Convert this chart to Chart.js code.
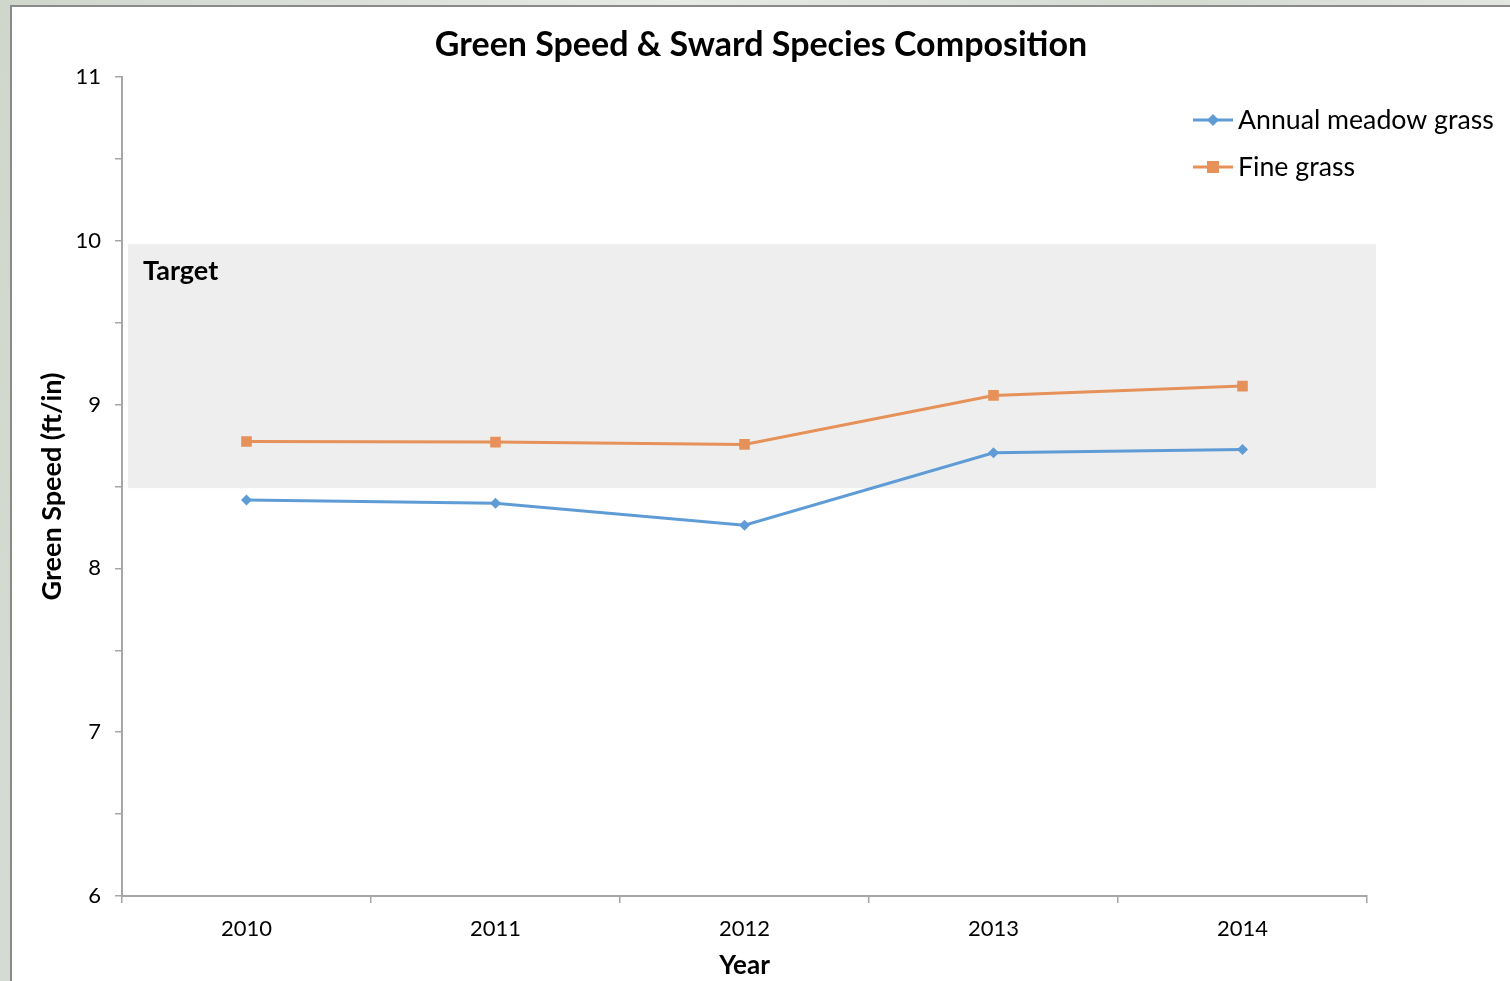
<!DOCTYPE html>
<html>
<head>
<meta charset="utf-8">
<script src="https://cdn.jsdelivr.net/npm/chart.js@4/dist/chart.umd.min.js"></script>
<style>
  html, body { margin: 0; padding: 0; width: 1510px; height: 981px; overflow: hidden; }
  body { background: linear-gradient(100deg, #cfd6cc 0%, #e6ebe4 40%, #d4dbd1 70%, #e9ece7 100%); position: relative; }
  #panel { position: absolute; left: 10px; top: 5px; width: 1510px; height: 990px; background: #fff; border-left: 2px solid #8a8a8a; border-top: 2px solid #8a8a8a; }
  #wrap { position: absolute; left: 0; top: 0; width: 1510px; height: 981px; }
</style>
</head>
<body>
<div id="panel"></div>
<div id="wrap"><canvas id="chart" width="1510" height="981"></canvas></div>
<script>
const years = ['2010', '2011', '2012', '2013', '2014'];
const annualMeadow = [8.417, 8.397, 8.264, 8.706, 8.726];
const fineGrass = [8.775, 8.771, 8.757, 9.056, 9.113];
const targetRange = [8.49, 9.98];
const yTicks = [6, 7, 8, 9, 10, 11];
const chartTitle = 'Green Speed & Sward Species Composition';

const FONT = 'Lato, "Open Sans", sans-serif';

// grey target band + its label
const targetBand = {
  id: 'targetBand',
  beforeDatasetsDraw(chart) {
    const { ctx, chartArea, scales: { y } } = chart;
    const top = y.getPixelForValue(targetRange[1]);
    const bottom = y.getPixelForValue(targetRange[0]);
    ctx.save();
    ctx.fillStyle = '#eeeeee';
    ctx.fillRect(chartArea.left + 6, top, chartArea.right - chartArea.left + 3, bottom - top);
    ctx.fillStyle = '#000';
    ctx.font = 'bold 27px ' + FONT;
    ctx.textBaseline = 'middle';
    ctx.fillText('Target', chartArea.left + 21, top + 27);
    ctx.restore();
  }
};

// title centred on the whole panel, not on the plot
const panelTitle = {
  id: 'panelTitle',
  afterDraw(chart) {
    const { ctx } = chart;
    ctx.save();
    ctx.fillStyle = '#000';
    ctx.font = 'bold 34px ' + FONT;
    ctx.textAlign = 'center';
    ctx.textBaseline = 'middle';
    ctx.fillText(chartTitle, 761, 45);
    ctx.restore();
  }
};

// legend drawn by hand, top right inside the plot
const sideLegend = {
  id: 'sideLegend',
  afterDraw(chart) {
    const { ctx } = chart;
    ctx.save();
    chart.data.datasets.forEach((ds, i) => {
      const x0 = 1193, y0 = 120 + i * 47;
      ctx.strokeStyle = ds.borderColor;
      ctx.lineWidth = 3;
      ctx.beginPath();
      ctx.moveTo(x0, y0);
      ctx.lineTo(x0 + 40, y0);
      ctx.stroke();
      ctx.fillStyle = ds.borderColor;
      ctx.beginPath();
      if (ds.pointStyle === 'rectRot') {
        ctx.moveTo(x0 + 20, y0 - 6);
        ctx.lineTo(x0 + 26, y0);
        ctx.lineTo(x0 + 20, y0 + 6);
        ctx.lineTo(x0 + 14, y0);
      } else {
        ctx.rect(x0 + 14, y0 - 6, 12, 12);
      }
      ctx.fill();
      ctx.fillStyle = '#000';
      ctx.font = '26.7px ' + FONT;
      ctx.textBaseline = 'middle';
      ctx.fillText(ds.label, x0 + 45, y0);
    });
    ctx.restore();
  }
};

new Chart(document.getElementById('chart'), {
  type: 'line',
  data: {
    labels: years,
    datasets: [
      {
        label: 'Annual meadow grass',
        data: annualMeadow,
        borderColor: '#5f9cd6',
        backgroundColor: '#5f9cd6',
        borderWidth: 3,
        pointStyle: 'rectRot',
        pointRadius: 5.5,
        pointBorderWidth: 0,
        tension: 0
      },
      {
        label: 'Fine grass',
        data: fineGrass,
        borderColor: '#e6915a',
        backgroundColor: '#e6915a',
        borderWidth: 3,
        pointStyle: 'rect',
        pointRadius: 7.5,
        pointBorderWidth: 0,
        tension: 0
      }
    ]
  },
  options: {
    responsive: false,
    animation: false,
    layout: { padding: { left: 36, right: 143, top: 77, bottom: 0 } },
    plugins: {
      legend: { display: false },
      tooltip: { enabled: false },
      title: { display: false }
    },
    scales: {
      x: {
        offset: true,
        grid: { offset: true, drawOnChartArea: false, drawTicks: true, tickLength: 7, color: '#a6a6a6', lineWidth: 1.5 },
        border: { display: true, color: '#a6a6a6', width: 2 },
        ticks: { color: '#000', font: { family: FONT, size: 22 }, padding: 13, maxRotation: 0 },
        title: { display: true, text: 'Year', color: '#000', font: { family: FONT, size: 26, weight: 'bold' }, padding: { top: 0, bottom: 0 } },
        afterFit(scale) { scale.height = 85; }
      },
      y: {
        min: 6,
        max: 11,
        grid: { drawOnChartArea: false, drawTicks: true, tickLength: 7, color: '#a6a6a6', lineWidth: 1.5 },
        border: { display: true, color: '#a6a6a6', width: 2 },
        ticks: {
          stepSize: 0.5,
          color: '#000',
          font: { family: FONT, size: 22 },
          padding: 14,
          callback: (v) => yTicks.includes(v) ? String(v) : ''
        },
        title: { display: true, text: 'Green Speed (ft/in)', color: '#000', font: { family: FONT, size: 27, weight: 'bold' }, padding: { top: 0, bottom: 0 } },
        afterFit(scale) { scale.width = 86; }
      }
    }
  },
  plugins: [targetBand, panelTitle, sideLegend]
});
</script>
</body>
</html>
